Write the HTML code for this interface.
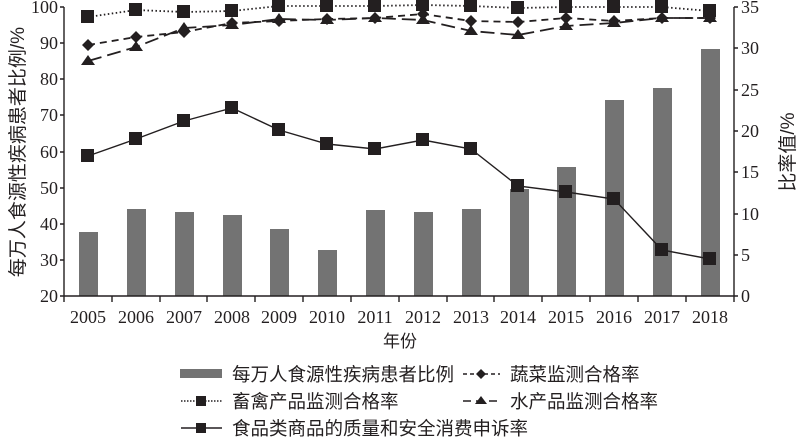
<!DOCTYPE html>
<html><head><meta charset="utf-8"><style>
body{margin:0;background:#fff}
svg text{font-family:"Liberation Serif","Noto Serif CJK SC",serif;fill:#231f20}
.cj{font-family:"Liberation Sans","Noto Sans CJK SC",sans-serif}
</style></head><body>
<svg width="800" height="440" viewBox="0 0 800 440" xmlns="http://www.w3.org/2000/svg">
<g fill="#737373">
<rect x="79" y="232" width="19" height="64"/>
<rect x="127" y="209" width="19" height="87"/>
<rect x="175" y="212" width="19" height="84"/>
<rect x="223" y="215" width="19" height="81"/>
<rect x="270" y="229" width="19" height="67"/>
<rect x="318" y="250" width="19" height="46"/>
<rect x="366" y="210" width="19" height="86"/>
<rect x="414" y="212" width="19" height="84"/>
<rect x="462" y="209" width="19" height="87"/>
<rect x="510" y="189" width="19" height="107"/>
<rect x="557" y="167" width="19" height="129"/>
<rect x="605" y="100" width="19" height="196"/>
<rect x="653" y="88" width="19" height="208"/>
<rect x="701" y="49" width="19" height="247"/>
</g>
<g stroke="#231f20" fill="none" stroke-width="1.4">
<line x1="64" y1="7" x2="64" y2="296"/>
<line x1="734" y1="7" x2="734" y2="296"/>
<line x1="60" y1="296" x2="738" y2="296"/>
<path d="M60 7H64M60 43H64M60 79H64M60 115H64M60 152H64M60 188H64M60 224H64M60 260H64"/>
<path d="M734 7H738M734 48H738M734 90H738M734 131H738M734 172H738M734 214H738M734 255H738"/>
<path d="M64 296V302M112 296V302M160 296V302M207 296V302M255 296V302M303 296V302M351 296V302M399 296V302M447 296V302M494 296V302M542 296V302M590 296V302M638 296V302M686 296V302M734 296V302"/>
<polyline points="88,17 136,10 184,12 232,11 279,6 327,6 375,6 423,5 471,6 518,8 566,7 614,7 662,7 710,11" stroke-width="1.8" stroke-dasharray="1.5 2.5"/>
<polyline points="88,45 136,37 184,32 232,23 279,21 327,19 375,18 423,14 471,21 518,22 566,18 614,21 662,18 710,18" stroke-width="1.8" stroke-dasharray="7 5"/>
<polyline points="88,61 136,47 184,28 232,25 279,19 327,20 375,18 423,20 471,31 518,35 566,26 614,23 662,18 710,18" stroke-width="1.8" stroke-dasharray="14 6"/>
<polyline points="88,156 136,139 184,121 232,108 279,130 327,144 375,149 423,140 471,149 518,186 566,192 614,199 662,250 710,259"/>
</g>
<g fill="#231f20">
<g>
<rect x="81" y="10" width="13" height="13"/><rect x="129" y="3" width="13" height="13"/><rect x="177" y="5" width="13" height="13"/><rect x="225" y="4" width="13" height="13"/><rect x="272" y="-1" width="13" height="13"/><rect x="320" y="-1" width="13" height="13"/><rect x="368" y="-1" width="13" height="13"/><rect x="416" y="-2" width="13" height="13"/><rect x="464" y="-1" width="13" height="13"/><rect x="511" y="1" width="13" height="13"/><rect x="559" y="0" width="13" height="13"/><rect x="607" y="0" width="13" height="13"/><rect x="655" y="0" width="13" height="13"/><rect x="703" y="4" width="13" height="13"/>
</g>
<g>
<rect x="81" y="149" width="13" height="13"/><rect x="129" y="132" width="13" height="13"/><rect x="177" y="114" width="13" height="13"/><rect x="225" y="101" width="13" height="13"/><rect x="272" y="123" width="13" height="13"/><rect x="320" y="137" width="13" height="13"/><rect x="368" y="142" width="13" height="13"/><rect x="416" y="133" width="13" height="13"/><rect x="464" y="142" width="13" height="13"/><rect x="511" y="179" width="13" height="13"/><rect x="559" y="185" width="13" height="13"/><rect x="607" y="192" width="13" height="13"/><rect x="655" y="243" width="13" height="13"/><rect x="703" y="252" width="13" height="13"/>
</g>
<g>
<path d="M88 39l6 6-6 6-6-6zM136 31l6 6-6 6-6-6zM184 26l6 6-6 6-6-6zM232 17l6 6-6 6-6-6zM279 15l6 6-6 6-6-6zM327 13l6 6-6 6-6-6zM375 12l6 6-6 6-6-6zM423 8l6 6-6 6-6-6zM471 15l6 6-6 6-6-6zM518 16l6 6-6 6-6-6zM566 12l6 6-6 6-6-6zM614 15l6 6-6 6-6-6zM662 12l6 6-6 6-6-6zM710 12l6 6-6 6-6-6z"/>
<path d="M88 55l7 10h-14zM136 41l7 10h-14zM184 22l7 10h-14zM232 19l7 10h-14zM279 13l7 10h-14zM327 14l7 10h-14zM375 12l7 10h-14zM423 14l7 10h-14zM471 25l7 10h-14zM518 29l7 10h-14zM566 20l7 10h-14zM614 17l7 10h-14zM662 12l7 10h-14zM710 12l7 10h-14z"/>
</g>
</g>
<g font-size="18" text-anchor="end">
<text x="58" y="13">100</text><text x="58" y="49">90</text><text x="58" y="85">80</text><text x="58" y="121">70</text><text x="58" y="158">60</text><text x="58" y="194">50</text><text x="58" y="230">40</text><text x="58" y="266">30</text><text x="58" y="302">20</text>
</g>
<g font-size="18">
<text x="741" y="13">35</text><text x="741" y="54">30</text><text x="741" y="96">25</text><text x="741" y="137">20</text><text x="741" y="178">15</text><text x="741" y="220">10</text><text x="741" y="261">5</text><text x="741" y="302">0</text>
</g>
<g font-size="18" text-anchor="middle">
<text x="88" y="323">2005</text><text x="136" y="323">2006</text><text x="184" y="323">2007</text><text x="232" y="323">2008</text><text x="279" y="323">2009</text><text x="327" y="323">2010</text><text x="375" y="323">2011</text><text x="423" y="323">2012</text><text x="471" y="323">2013</text><text x="518" y="323">2014</text><text x="566" y="323">2015</text><text x="614" y="323">2016</text><text x="662" y="323">2017</text><text x="710" y="323">2018</text>
<text class="cj" x="400" y="347" font-size="17">年份</text>
<text class="cj" font-size="19" transform="translate(24,152) rotate(-90)">每万人食源性疾病患者比例/%</text>
<text class="cj" font-size="19" transform="translate(794,152) rotate(-90)">比率值/%</text>
</g>
<g font-size="18.5">
<rect x="180" y="369" width="42" height="9" fill="#737373"/>
<text class="cj" x="232" y="381">每万人食源性疾病患者比例</text>
<text class="cj" x="510" y="381">蔬菜监测合格率</text>
<text class="cj" x="232" y="408">畜禽产品监测合格率</text>
<text class="cj" x="510" y="408">水产品监测合格率</text>
<text class="cj" x="232" y="435">食品类商品的质量和安全消费申诉率</text>
</g>
<g stroke="#231f20" stroke-width="1.5" fill="none">
<line x1="463" y1="374" x2="500" y2="374" stroke-dasharray="4 3"/>
<line x1="181" y1="401" x2="222" y2="401" stroke-dasharray="1.5 1.5"/>
<line x1="463" y1="401" x2="500" y2="401" stroke-dasharray="8 5"/>
<line x1="181" y1="428" x2="222" y2="428"/>
</g>
<g fill="#231f20">
<path d="M481 369l5 5-5 5-5-5z"/>
<rect x="196" y="396" width="10" height="10"/>
<path d="M481 396l6 8h-12z"/>
<rect x="196" y="423" width="10" height="10"/>
</g>
</svg>
</body></html>
